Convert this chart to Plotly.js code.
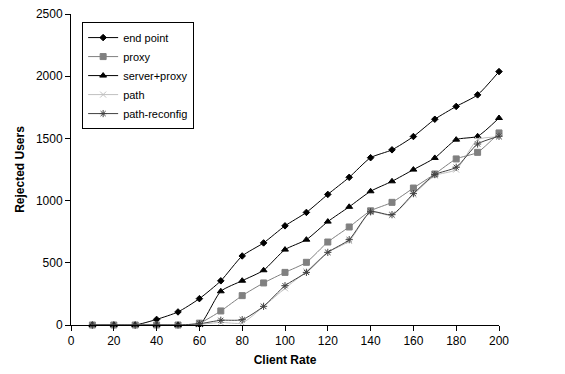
<!DOCTYPE html>
<html><head><meta charset="utf-8">
<script src="https://cdn.plot.ly/plotly-3.0.1.min.js"></script>
<style>html,body{margin:0;padding:0;background:#fff;}#chart{width:565px;height:374px;}</style>
</head><body><div id="chart"></div>
<script>
var clientRate = [10,20,30,40,50,60,70,80,90,100,110,120,130,140,150,160,170,180,190,200];
var endPoint     = [0,0,0,45,105,212,355,555,660,797,905,1050,1187,1345,1408,1515,1654,1757,1850,2037];
var proxy        = [0,0,0,0,0,15,113,236,338,423,504,667,788,918,986,1101,1214,1335,1388,1544];
var serverProxy  = [0,0,0,0,0,0,271,356,440,606,686,831,950,1075,1155,1249,1343,1490,1517,1664];
var path         = [0,0,0,0,0,5,21,16,150,295,431,584,675,908,882,1048,1201,1249,1490,1512];
var pathReconfig = [0,0,0,0,0,10,38,43,150,316,423,584,686,910,887,1056,1209,1268,1455,1517];

var names = ['end point','proxy','server+proxy','path','path-reconfig'];
var series = [endPoint, proxy, serverProxy, path, pathReconfig];
var colors = ['#000000','#808080','#000000','#c0c0c0','#404040'];
var symbols = ['diamond','square','triangle-up','x-thin-open','asterisk-open'];
var sizes = [5,6,6,6,6];

var traces = series.map(function(s,i){
  return {
    x: clientRate, y: s, name: names[i], type:'scatter', mode:'lines+markers',
    line:{color:colors[i], width:1, shape:'spline', smoothing:0.6},
    marker:{symbol:symbols[i], size:sizes[i], color:colors[i], line:{color:colors[i], width:1}},
    cliponaxis:false
  };
});

var layout = {
  width:565, height:374,
  margin:{l:71, r:66, t:14, b:49},
  paper_bgcolor:'#fff', plot_bgcolor:'#fff',
  font:{family:'Liberation Sans, Arial, sans-serif', size:12, color:'#000'},
  showlegend:true,
  legend:{x:0.026, y:0.974, xanchor:'left', yanchor:'top', bgcolor:'#fff',
    bordercolor:'#000', borderwidth:1, font:{size:11}, tracegroupgap:0, itemwidth:30},
  xaxis:{range:[0,200], dtick:20, tick0:0, showgrid:false, zeroline:false,
    showline:true, linecolor:'#000', linewidth:1, ticks:'outside', ticklen:5, tickcolor:'#000',
    title:{text:'<b>Client Rate</b>', font:{size:12}, standoff:8}},
  yaxis:{range:[0,2500], dtick:500, tick0:0, showgrid:false, zeroline:false,
    showline:true, linecolor:'#000', linewidth:1, ticks:'outside', ticklen:5, tickcolor:'#000',
    title:{text:'<b>Rejected Users</b>', font:{size:12}, standoff:8}}
};
Plotly.newPlot('chart', traces, layout, {displayModeBar:false, staticPlot:true});
</script></body></html>
